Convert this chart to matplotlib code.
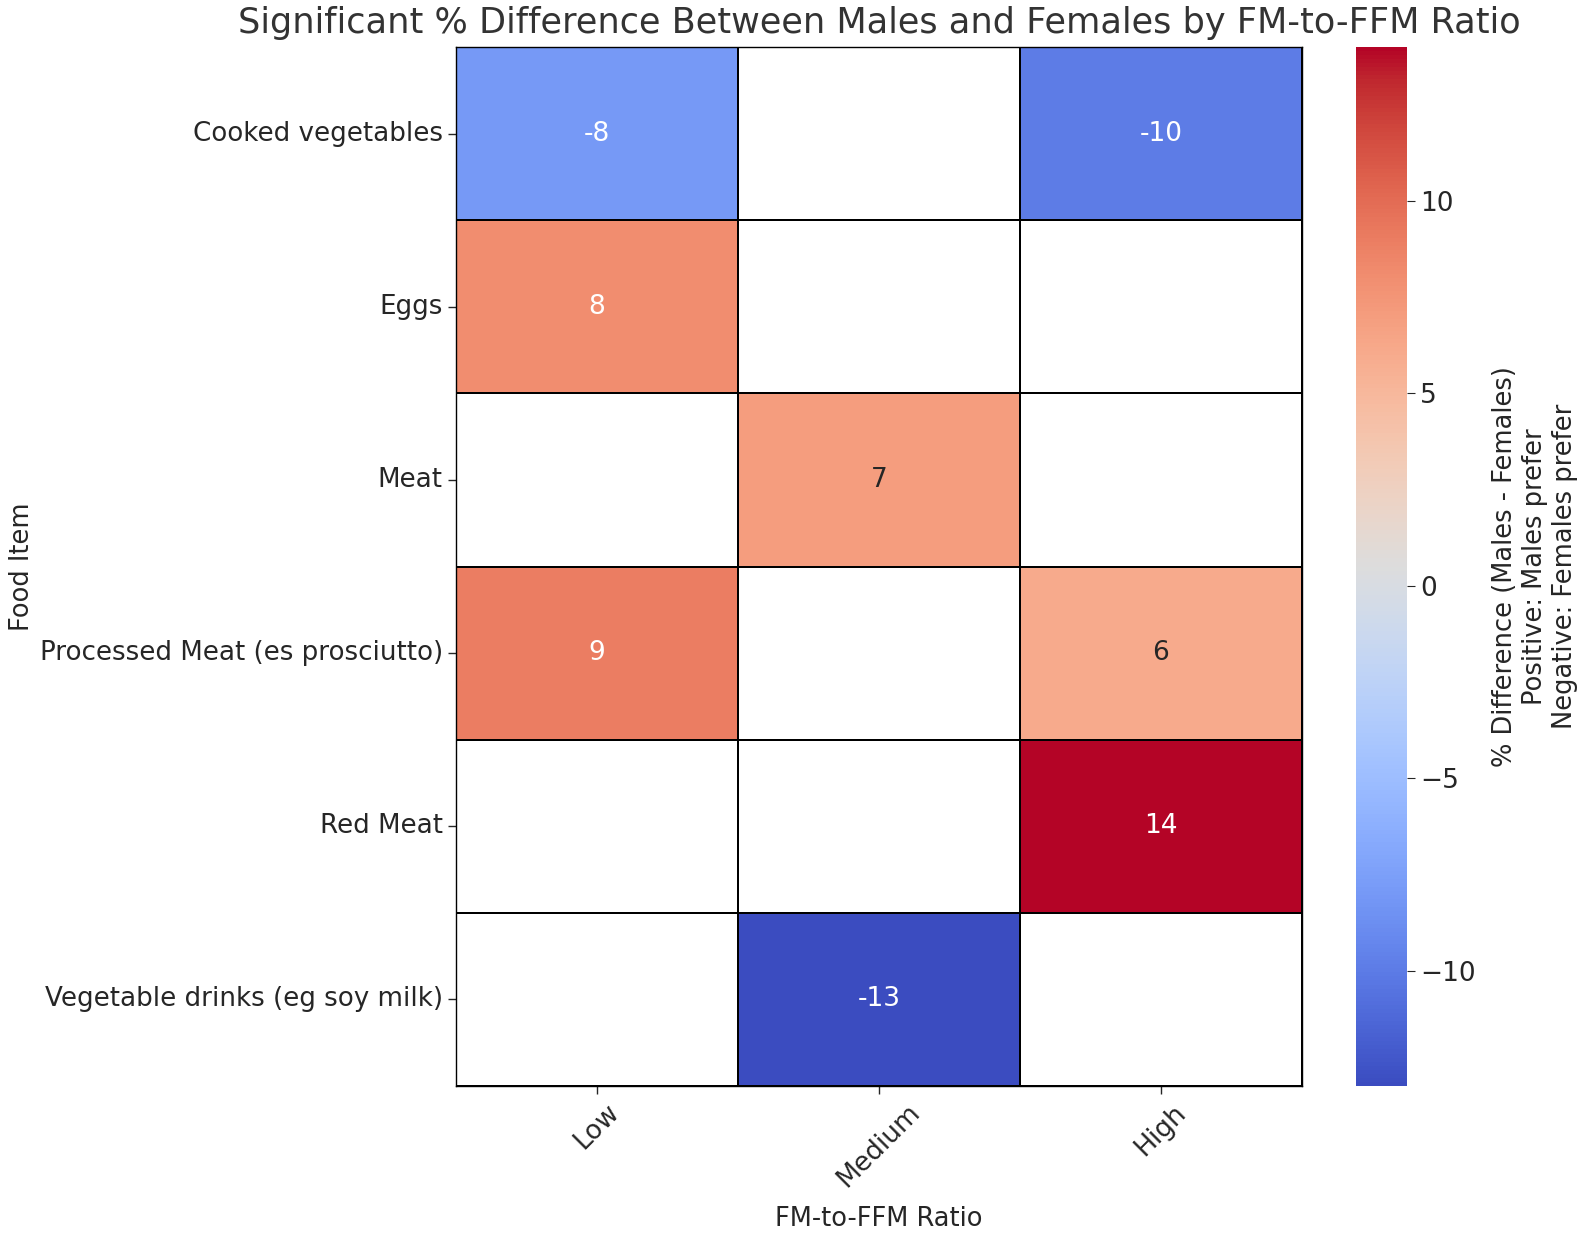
import numpy as np
import pandas as pd
import matplotlib
matplotlib.use("Agg")
import matplotlib.pyplot as plt
import seaborn as sns

foods = ["Cooked vegetables", "Eggs", "Meat", "Processed Meat (es prosciutto)",
         "Red Meat", "Vegetable drinks (eg soy milk)"]
ratios = ["Low", "Medium", "High"]
low = [-8, 8, np.nan, 9, np.nan, np.nan]
medium = [np.nan, np.nan, 7, np.nan, np.nan, -13]
high = [-10, np.nan, np.nan, 6, 14, np.nan]

df = pd.DataFrame({"Low": low, "Medium": medium, "High": high}, index=foods)

plt.rcParams['font.family'] = ['DejaVu Sans']
txt = '#262626'
fig = plt.figure(figsize=(15.95, 12.45), dpi=100)
ax = fig.add_axes([456/1595, 1 - 1086/1245, (1302-456)/1595, (1086-47)/1245])
cax = fig.add_axes([1356/1595, 1 - 1086/1245, (1407-1356)/1595, (1086-47)/1245])

sns.heatmap(df, ax=ax, cbar_ax=cax, cmap="coolwarm", annot=True, fmt=".0f",
            linewidths=1.3, linecolor="black",
            annot_kws={"size": 19})
ax.set_title("Significant % Difference Between Males and Females by FM-to-FFM Ratio",
             fontsize=25.3, color='#333333', pad=10)
ax.set_xlabel("FM-to-FFM Ratio", fontsize=18.5, color=txt, labelpad=10)
ax.set_ylabel("Food Item", fontsize=18.5, color=txt)
ax.yaxis.set_label_coords(-0.498, 0.5)
ax.set_xticklabels(ratios, rotation=45, fontsize=19, color=txt)
ax.set_yticklabels(foods, rotation=0, fontsize=18.8, color=txt)
ax.tick_params(axis='both', length=6, width=1, color=txt)
for s in ax.spines.values():
    s.set_visible(True)
    s.set_color('black')
    s.set_linewidth(1)

cax.tick_params(labelsize=19, length=6, colors=txt)
cax.set_ylabel("% Difference (Males - Females)\nPositive: Males prefer\nNegative: Females prefer",
               fontsize=18.5, color=txt, labelpad=12)

fig.savefig("out.png", dpi=100)
